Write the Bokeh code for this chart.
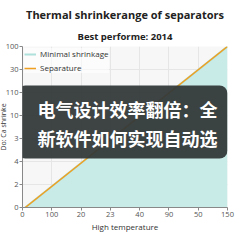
from bokeh.plotting import figure
from bokeh.models import (Title, Legend, LegendItem, FixedTicker, BoxAnnotation, Label, Range1d)
from bokeh.embed import file_html
from bokeh.resources import INLINE

# data
temperature = [2, 150]
separature = [0, 100]
minimal_low = [0, 0]
x_tick_labels = ["0", "100", "20", "23", "40", "90", "50", "150"]
y_tick_labels = ["0", "2", "4", "3", "10", "110", "30", "100"]
overlay_lines = ["电气设计效率翻倍：全", "新软件如何实现自动选"]

FONT = "Open Sans"

p = figure(width=243, height=243, output_backend="svg", toolbar_location=None,
           x_range=Range1d(0, 150), y_range=Range1d(0, 100),
           min_border_left=22, min_border_right=16, min_border_top=46, min_border_bottom=36)
p.background_fill_color = "#f7f7f7"
p.border_fill_color = "white"
p.outline_line_color = None

p.title.text = "Thermal shrinkerange of separators"
p.title.align = "center"
p.title.text_font = FONT
p.title.text_font_size = "11px"
p.title.text_font_style = "bold"
p.title.text_color = "#222222"
p.title.standoff = 5
p.add_layout(Title(text="Best performe: 2014", align="center",
                   text_font=FONT, text_font_size="9.5px", text_font_style="bold",
                   text_color="#222222", standoff=7), "above")

# area + lines
p.varea(x=temperature, y1=minimal_low, y2=separature, fill_color="#c8ebe8", fill_alpha=1.0)
r_min = p.line(x=temperature, y=separature, line_color="#aee0dc", line_width=2)
r_sep = p.line(x=temperature, y=separature, line_color="#f0a020", line_width=1.5)

xt = [i * 150 / 7 for i in range(8)]
yt = [i * 100 / 7 for i in range(8)]
p.xaxis.ticker = FixedTicker(ticks=xt)
p.yaxis.ticker = FixedTicker(ticks=yt)
p.xaxis.major_label_overrides = {t: l for t, l in zip(xt, x_tick_labels)}
p.yaxis.major_label_overrides = {t: l for t, l in zip(yt, y_tick_labels)}

for ax in (p.xaxis[0], p.yaxis[0]):
    ax.major_label_text_font = FONT
    ax.major_label_text_font_size = "7.5px"
    ax.major_label_text_color = "#555555"
    ax.axis_label_text_font = FONT
    ax.axis_label_text_font_style = "normal"
    ax.axis_label_text_color = "#333333"
    ax.axis_line_color = "#888888"
    ax.major_tick_line_color = "#888888"
    ax.major_tick_in = 0
    ax.major_tick_out = 3
    ax.minor_tick_line_color = None
    ax.major_label_standoff = 1
    ax.axis_label_standoff = 0

p.xaxis.axis_label = "High temperature"
p.xaxis.axis_label_text_font_size = "8px"
p.xaxis.axis_label_standoff = 1

# y-axis title as a left-side title, pulled in toward the tick labels
p.add_layout(Title(text="Do: Ca shrinke", align="center", text_font=FONT,
                   text_font_size="7px", text_font_style="normal",
                   text_color="#333333", standoff=-10), "left")

p.xgrid.grid_line_color = "#e6e6e6"
p.ygrid.grid_line_color = "#e6e6e6"

legend = Legend(items=[LegendItem(label="Minimal shrinkage", renderers=[r_min]),
                       LegendItem(label="Separature", renderers=[r_sep])],
                location="top_left", label_text_font=FONT, label_text_font_size="8px",
                label_text_color="#333333", border_line_color=None,
                background_fill_color="white", background_fill_alpha=0.6,
                glyph_width=12, glyph_height=8, label_height=8, spacing=3,
                padding=4, margin=2, label_standoff=4)
p.add_layout(legend, "center")

# overlay banner
box = BoxAnnotation(left=-3.7, right=150, bottom=30.4, top=75.8,
                    fill_color="#343939", fill_alpha=0.95, line_color=None,
                    border_radius=8)
p.add_layout(box)
for txt, yy in zip(overlay_lines, [60.9, 42.9]):
    p.add_layout(Label(x=11, y=yy, text=txt, text_color="white",
                       text_font="Noto Sans CJK SC", text_font_size="18px",
                       text_font_style="bold", text_baseline="middle", text_align="left"))

open("out.html", "w").write(file_html(p, INLINE))
